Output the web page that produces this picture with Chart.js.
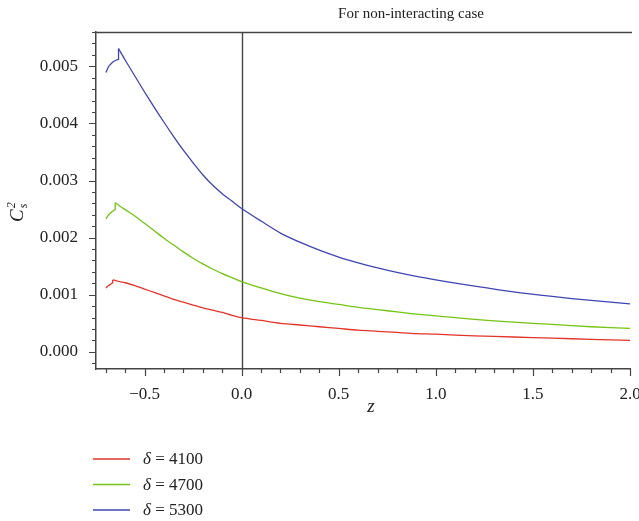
<!DOCTYPE html>
<html>
<head>
<meta charset="utf-8">
<script src="https://cdn.jsdelivr.net/npm/chart.js@4/dist/chart.umd.min.js"></script>
<style>
  html, body { margin: 0; padding: 0; background: #fff; overflow: hidden; }
</style>
</head>
<body>
<canvas id="cs2" width="639" height="521"></canvas>
<script>
// start of each curve (up to and including the jump), per series
var zHead4100 = [-0.699, -0.685, -0.664, -0.664];
var cHead4100 = [0.00112, 0.00116, 0.00121, 0.00126];
var zHead4700 = [-0.699, -0.685, -0.670, -0.651, -0.651];
var cHead4700 = [0.00233, 0.00240, 0.00245, 0.00249, 0.00261];
var zHead5300 = [-0.699, -0.685, -0.665, -0.645, -0.634, -0.634];
var cHead5300 = [0.00489, 0.00500, 0.00507, 0.00511, 0.00512, 0.00531];

// common z grid for the rest of the curves
var zGrid = [-0.6, -0.55, -0.5, -0.45, -0.4, -0.35, -0.3, -0.25, -0.2, -0.15, -0.1, -0.05,
             0, 0.1, 0.2, 0.3, 0.4, 0.5, 0.6, 0.7, 0.8, 0.9, 1.0, 1.2, 1.4, 1.6, 1.8, 2.0];
var c4100 = [0.00121, 0.00116, 0.00110, 0.00104, 0.00098, 0.00092, 0.00087, 0.00082, 0.00077, 0.00073, 0.00069, 0.00064,
             0.00060, 0.00055, 0.00050, 0.00047, 0.00044, 0.00041, 0.00038, 0.00036, 0.00034, 0.00032, 0.00031, 0.00028, 0.00026, 0.00024, 0.00022, 0.00020];
var c4700 = [0.00249, 0.00238, 0.00225, 0.00212, 0.00199, 0.00187, 0.00175, 0.00164, 0.00154, 0.00145, 0.00137, 0.00130,
             0.00123, 0.00112, 0.00102, 0.00094, 0.00088, 0.00083, 0.00078, 0.00074, 0.00070, 0.00066, 0.00063, 0.00057, 0.00052, 0.00048, 0.00044, 0.00041];
var c5300 = [0.00511, 0.00483, 0.00455, 0.00428, 0.00402, 0.00377, 0.00353, 0.00331, 0.00310, 0.00292, 0.00277, 0.00264,
             0.00251, 0.00229, 0.00208, 0.00192, 0.00178, 0.00166, 0.00156, 0.00147, 0.00139, 0.00132, 0.00126, 0.00115, 0.00105, 0.00097, 0.00090, 0.00084];

var deltas = ['4100', '4700', '5300'];
var colors = ['#e3342a', '#74c414', '#3f44b2'];

function xy(zs, cs) {
    var out = [];
    for (var i = 0; i < zs.length; i++) out.push({x: zs[i], y: cs[i]});
    return out;
}

// head is drawn straight, tail (from the top of the jump) smoothed
function series(i, zh, ch, zs, cs) {
    var last = zh.length - 1;
    return [
        { label: deltas[i], data: xy(zh, ch), borderColor: colors[i], tension: 0 },
        { label: deltas[i], data: xy([zh[last]].concat(zs), [ch[last]].concat(cs)), borderColor: colors[i], tension: 0.3 }
    ];
}

var serif = "'Liberation Serif', 'DejaVu Serif', serif";
var axisColor = '#444';

// ticks, zero line, top frame, title, axis labels and legend
var decor = {
    id: 'decor',
    beforeDatasetsDraw: function (chart) {
        var c = chart.ctx, a = chart.chartArea, xs = chart.scales.x;
        var x0 = Math.round(xs.getPixelForValue(0)) + 0.5;
        c.save();
        c.strokeStyle = axisColor;
        c.lineWidth = 1.4;
        c.beginPath();
        c.moveTo(x0, a.top);
        c.lineTo(x0, a.bottom);
        c.moveTo(a.left, a.top + 0.5);
        c.lineTo(a.right + 2, a.top + 0.5);
        c.stroke();
        c.restore();
    },
    afterDraw: function (chart) {
        var c = chart.ctx, a = chart.chartArea;
        var xs = chart.scales.x, ys = chart.scales.y;
        c.save();
        c.strokeStyle = axisColor;
        c.lineWidth = 1.2;
        c.beginPath();
        xs.ticks.forEach(function (t) {
            var px = Math.round(xs.getPixelForValue(t.value)) + 0.5;
            var len = t.label !== '' ? 7 : 4;
            c.moveTo(px, a.bottom);
            c.lineTo(px, a.bottom + len);
        });
        ys.ticks.forEach(function (t) {
            var py = Math.round(ys.getPixelForValue(t.value)) + 0.5;
            var len = t.label !== '' ? 7 : 4;
            c.moveTo(a.left, py);
            c.lineTo(a.left - len, py);
        });
        c.stroke();

        c.fillStyle = '#222';
        c.textBaseline = 'alphabetic';
        // title
        c.font = '15px ' + serif;
        c.textAlign = 'center';
        c.fillText('For non-interacting case', (a.left + a.right) / 2 + 48, 18);
        // x label
        c.font = 'italic 19px ' + serif;
        c.fillText('z', (a.left + a.right) / 2 + 8, 412);
        // y label, rotated
        c.save();
        c.translate(23, 222);
        c.rotate(-Math.PI / 2);
        c.textAlign = 'left';
        c.font = 'italic 19px ' + serif;
        c.fillText('C', 0, 0);
        var cw = c.measureText('C').width;
        c.font = 'italic 12px ' + serif;
        c.fillText('2', cw + 1, -8);
        c.fillText('s', cw + 1, 4);
        c.restore();

        // legend
        c.textAlign = 'left';
        c.textBaseline = 'middle';
        colors.forEach(function (col, i) {
            var y = 459 + i * 25.5;
            c.strokeStyle = col;
            c.lineWidth = 1.3;
            c.beginPath();
            c.moveTo(93, y);
            c.lineTo(130, y);
            c.stroke();
            c.font = 'italic 17px ' + serif;
            c.fillText('\u03b4', 143, y + 1);
            var w = c.measureText('\u03b4').width;
            c.font = '17px ' + serif;
            c.fillText(' = ' + deltas[i], 143 + w, y + 1);
        });
        c.restore();
    }
};

var ctx = document.getElementById('cs2').getContext('2d');
var chart = new Chart(ctx, {
    type: 'line',
    data: {
        datasets: []
            .concat(series(0, zHead4100, cHead4100, zGrid, c4100))
            .concat(series(1, zHead4700, cHead4700, zGrid, c4700))
            .concat(series(2, zHead5300, cHead5300, zGrid, c5300))
    },
    options: {
        responsive: false,
        animation: false,
        layout: { padding: { top: 32, right: 9, bottom: 112, left: 0 } },
        elements: {
            line: { borderWidth: 1.3, fill: false },
            point: { radius: 0 }
        },
        plugins: {
            legend: { display: false },
            title: { display: false },
            tooltip: { enabled: false }
        },
        scales: {
            x: {
                type: 'linear',
                min: -0.75,
                max: 2.0,
                grid: { display: false },
                border: { display: true, color: axisColor, width: 1.5 },
                ticks: {
                    stepSize: 0.1,
                    includeBounds: false,
                    autoSkip: false,
                    maxRotation: 0,
                    padding: 7,
                    color: '#222',
                    font: { family: serif, size: 17 },
                    callback: function (v) {
                        var k = v / 0.5;
                        if (Math.abs(k - Math.round(k)) > 1e-6) return '';
                        return v.toFixed(1).replace('-', '\u2212');
                    }
                },
                afterFit: function (s) {
                    s.height = 40;
                    s.paddingLeft = 0;
                    s.paddingRight = 0;
                }
            },
            y: {
                type: 'linear',
                min: -0.0003,
                max: 0.0056,
                grid: { display: false },
                border: { display: true, color: axisColor, width: 1.5 },
                ticks: {
                    stepSize: 0.0002,
                    includeBounds: false,
                    autoSkip: false,
                    padding: 10,
                    color: '#222',
                    font: { family: serif, size: 17 },
                    callback: function (v) {
                        var k = v * 1000;
                        if (Math.abs(k - Math.round(k)) > 1e-6) return '';
                        return v.toFixed(3);
                    }
                },
                afterFit: function (s) {
                    s.width = 96;
                    s.paddingTop = 0;
                    s.paddingBottom = 0;
                }
            }
        }
    },
    plugins: [decor]
});
</script>
</body>
</html>
